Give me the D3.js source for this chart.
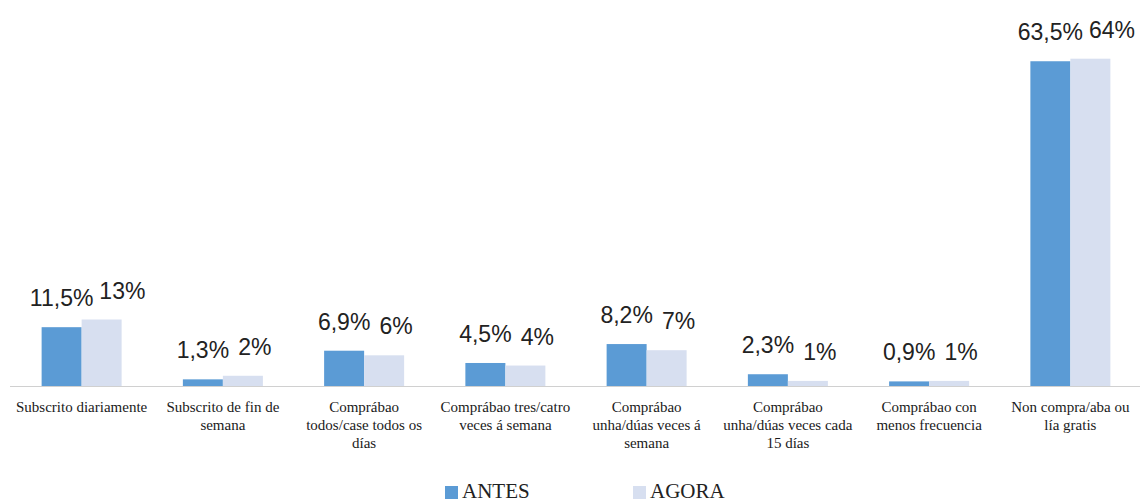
<!DOCTYPE html>
<html>
<head>
<meta charset="utf-8">
<script src="https://cdn.jsdelivr.net/npm/d3@7"></script>
<style>
  html, body { margin: 0; padding: 0; background: #fff; }
  svg { display: block; }
</style>
</head>
<body>
<svg id="chart" width="1140" height="504"></svg>
<script>
// Category labels (line breaks as in the printed chart)
const categories = [
  "Subscrito diariamente",
  "Subscrito de fin de\nsemana",
  "Comprábao\ntodos/case todos os\ndías",
  "Comprábao tres/catro\nveces á semana",
  "Comprábao\nunha/dúas veces á\nsemana",
  "Comprábao\nunha/dúas veces cada\n15 días",
  "Comprábao con\nmenos frecuencia",
  "Non compra/aba ou\nlía gratis"
];
const seriesNames = ["ANTES", "AGORA"];
const antes = [11.5, 1.3, 6.9, 4.5, 8.2, 2.3, 0.9, 63.5];
const agora = [13, 2, 6, 4, 7, 1, 1, 64];
const antesLabels = ["11,5%", "1,3%", "6,9%", "4,5%", "8,2%", "2,3%", "0,9%", "63,5%"];
const agoraLabels = ["13%", "2%", "6%", "4%", "7%", "1%", "1%", "64%"];

const colors = { ANTES: "#5b9bd5", AGORA: "#d7dff0" };

const svg = d3.select("#chart");
const baseY = 386;

const x0 = d3.scaleBand()
  .domain(categories)
  .range([11, 1141])
  .paddingInner(0.4336)
  .paddingOuter(0.2168);

const x1 = d3.scaleBand()
  .domain(seriesNames)
  .range([0, x0.bandwidth()])
  .padding(0);

const y = d3.scaleLinear().domain([0, 70]).range([baseY, 28]);

const rows = categories.map((c, i) => ({
  cat: c,
  values: [
    { key: "ANTES", v: antes[i], label: antesLabels[i] },
    { key: "AGORA", v: agora[i], label: agoraLabels[i] }
  ]
}));

// Axis baseline
svg.append("line")
  .attr("x1", 10).attr("x2", 1140)
  .attr("y1", baseY + 0.5).attr("y2", baseY + 0.5)
  .attr("stroke", "#d0d0d0").attr("stroke-width", 1.2);

const groups = svg.append("g").selectAll("g")
  .data(rows).join("g")
  .attr("transform", d => `translate(${x0(d.cat)},0)`);

groups.selectAll("rect")
  .data(d => d.values).join("rect")
  .attr("x", d => x1(d.key))
  .attr("width", x1.bandwidth())
  .attr("y", d => y(d.v))
  .attr("height", d => baseY - y(d.v))
  .attr("fill", d => colors[d.key]);

// Value labels: ANTES centred on its bar, AGORA nudged right and kept clear of the ANTES label
groups.each(function(d) {
  const g = d3.select(this);
  const [a, b] = d.values;
  const aText = g.append("text")
    .attr("x", x1(a.key) + x1.bandwidth() / 2)
    .attr("y", y(a.v) - 21)
    .attr("text-anchor", "middle")
    .attr("font-family", "'Liberation Sans', Arial, sans-serif")
    .attr("font-size", 23)
    .attr("fill", "#222")
    .text(a.label);
  const aRight = x1(a.key) + x1.bandwidth() / 2 + aText.node().getComputedTextLength() / 2;
  const bText = g.append("text")
    .attr("y", y(b.v) - 21)
    .attr("text-anchor", "start")
    .attr("font-family", "'Liberation Sans', Arial, sans-serif")
    .attr("font-size", 23)
    .attr("fill", "#222")
    .text(b.label);
  const bw = bText.node().getComputedTextLength();
  const bLeft = Math.max(x1(b.key) + x1.bandwidth() / 2 + 12 - bw / 2, aRight + 6);
  bText.attr("x", bLeft);
});

// Category labels
svg.append("g").selectAll("text")
  .data(categories).join("text")
  .attr("y", 412)
  .attr("text-anchor", "middle")
  .attr("font-family", "'Liberation Serif', 'Times New Roman', serif")
  .attr("font-size", 15)
  .attr("fill", "#1a1a1a")
  .each(function(d) {
    const t = d3.select(this);
    const cx = x0(d) + x0.bandwidth() / 2;
    d.split("\n").forEach((line, i) => {
      t.append("tspan").attr("x", cx).attr("dy", i === 0 ? 0 : 18).text(line);
    });
  });

// Legend
const legendX = [445, 633];
const legend = svg.append("g").selectAll("g")
  .data(seriesNames).join("g")
  .attr("transform", (d, i) => `translate(${legendX[i]},0)`);
legend.append("rect")
  .attr("x", 0).attr("y", 486).attr("width", 13).attr("height", 13)
  .attr("fill", d => colors[d]);
legend.append("text")
  .attr("x", 17).attr("y", 498)
  .attr("font-family", "'Liberation Serif', 'Times New Roman', serif")
  .attr("font-size", 21)
  .attr("fill", "#222")
  .text(d => d);
</script>
</body>
</html>
